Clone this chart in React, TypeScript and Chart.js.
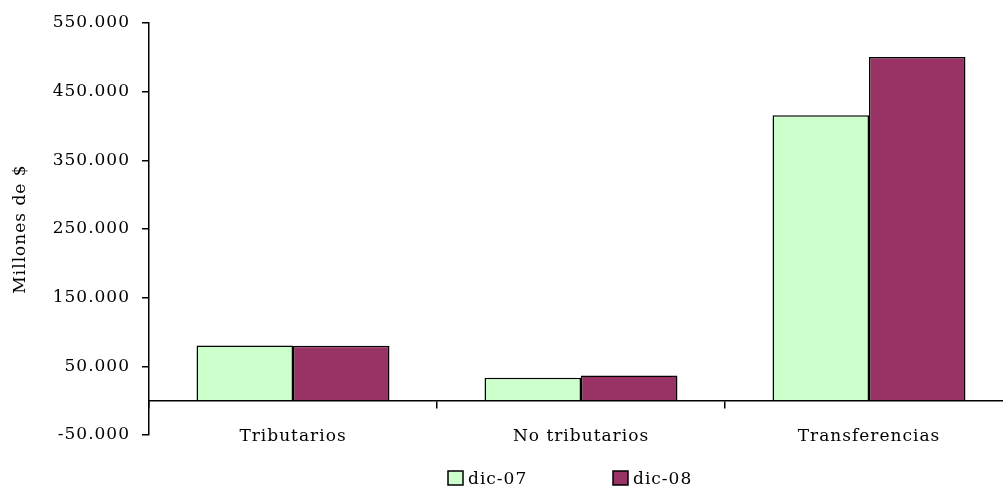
import React, { useEffect, useRef } from "react";
import { Chart, registerables } from "chart.js";

Chart.register(...registerables);

const categories = ["Tributarios", "No tributarios", "Transferencias"];
const seriesNames = ["dic-07", "dic-08"];
const dic07 = [80200, 33500, 415500];
const dic08 = [80000, 36500, 500600];
const yTicks = [-50000, 50000, 150000, 250000, 350000, 450000, 550000];
const seriesColors = ["#CCFFCC", "#993366"];
const yTitle = "Millones de $";

const FONT = "'DejaVu Serif', serif";
const LS = "1px";

function fmt(v: number): string {
  const s = Math.abs(Math.round(v))
    .toString()
    .replace(/\B(?=(\d{3})+(?!\d))/g, ".");
  return (v < 0 ? "-" : "") + s;
}

const spacingPlugin = {
  id: "letterSpacing",
  beforeLayout(chart: any) {
    chart.ctx.letterSpacing = LS;
  },
  beforeDraw(chart: any) {
    chart.ctx.letterSpacing = LS;
  },
};

const legendPlugin = {
  id: "customLegend",
  afterDraw(chart: any) {
    const ctx = chart.ctx;
    ctx.save();
    ctx.letterSpacing = LS;
    ctx.font = `17px ${FONT}`;
    ctx.textBaseline = "alphabetic";
    ctx.textAlign = "left";
    const startX = 448;
    const step = 165;
    chart.data.datasets.forEach((ds: any, i: number) => {
      const x = startX + i * step;
      ctx.fillStyle = ds.backgroundColor;
      ctx.fillRect(x, 471, 15, 14);
      ctx.strokeStyle = "#000";
      ctx.lineWidth = 1.5;
      ctx.strokeRect(x, 471, 15, 14);
      ctx.fillStyle = "#000";
      ctx.fillText(ds.label, x + 20, 484);
    });
    ctx.restore();
  },
};

export default function App() {
  const ref = useRef<HTMLCanvasElement | null>(null);

  useEffect(() => {
    if (!ref.current) return;
    const chart = new Chart(ref.current, {
      type: "bar",
      data: {
        labels: categories,
        datasets: [
          {
            label: seriesNames[0],
            data: dic07,
            backgroundColor: seriesColors[0],
            borderColor: "#000",
            borderWidth: 1.5,
            categoryPercentage: 0.67,
            barPercentage: 1.0,
          },
          {
            label: seriesNames[1],
            data: dic08,
            backgroundColor: seriesColors[1],
            borderColor: "#000",
            borderWidth: 1.5,
            categoryPercentage: 0.67,
            barPercentage: 1.0,
          },
        ],
      },
      options: {
        animation: false,
        responsive: false,
        devicePixelRatio: 1,
        layout: { padding: { left: 0, right: 7, top: 23, bottom: 51 } },
        plugins: {
          legend: { display: false },
          tooltip: { enabled: false },
        },
        scales: {
          x: {
            position: { y: 0 } as any,
            offset: true,
            grid: {
              offset: true,
              drawOnChartArea: false,
              drawTicks: true,
              tickLength: 7,
              color: "#000",
              lineWidth: 1.5,
            },
            border: { display: true, color: "#000", width: 1.5, z: 1 } as any,
            ticks: {
              color: "#000",
              font: { family: FONT, size: 17 },
              padding: 19,
              maxRotation: 0,
              autoSkip: false,
            },
          },
          y: {
            min: -50000,
            max: 550000,
            afterBuildTicks: (s: any) => {
              s.ticks = yTicks.map((v) => ({ value: v }));
            },
            afterFit: (s: any) => {
              s.width = 149;
            },
            ticks: {
              callback: (v: any) => fmt(Number(v)),
              color: "#000",
              font: { family: FONT, size: 17 },
              padding: 12,
            },
            grid: {
              drawOnChartArea: false,
              drawTicks: true,
              tickLength: 7,
              color: "#000",
              lineWidth: 1.5,
            },
            border: { display: true, color: "#000", width: 1.5 },
            title: {
              display: true,
              text: yTitle,
              color: "#000",
              font: { family: FONT, size: 17 },
              padding: { top: 10, bottom: 0 },
            },
          },
        },
      },
      plugins: [spacingPlugin, legendPlugin],
    });
    return () => chart.destroy();
  }, []);

  return (
    <div
      style={{
        position: "fixed",
        left: 0,
        top: 0,
        width: "1003px",
        height: "486px",
        overflow: "hidden",
        background: "#fff",
      }}
    >
      <canvas ref={ref} width={1020} height={486} style={{ display: "block" }} />
    </div>
  );
}
